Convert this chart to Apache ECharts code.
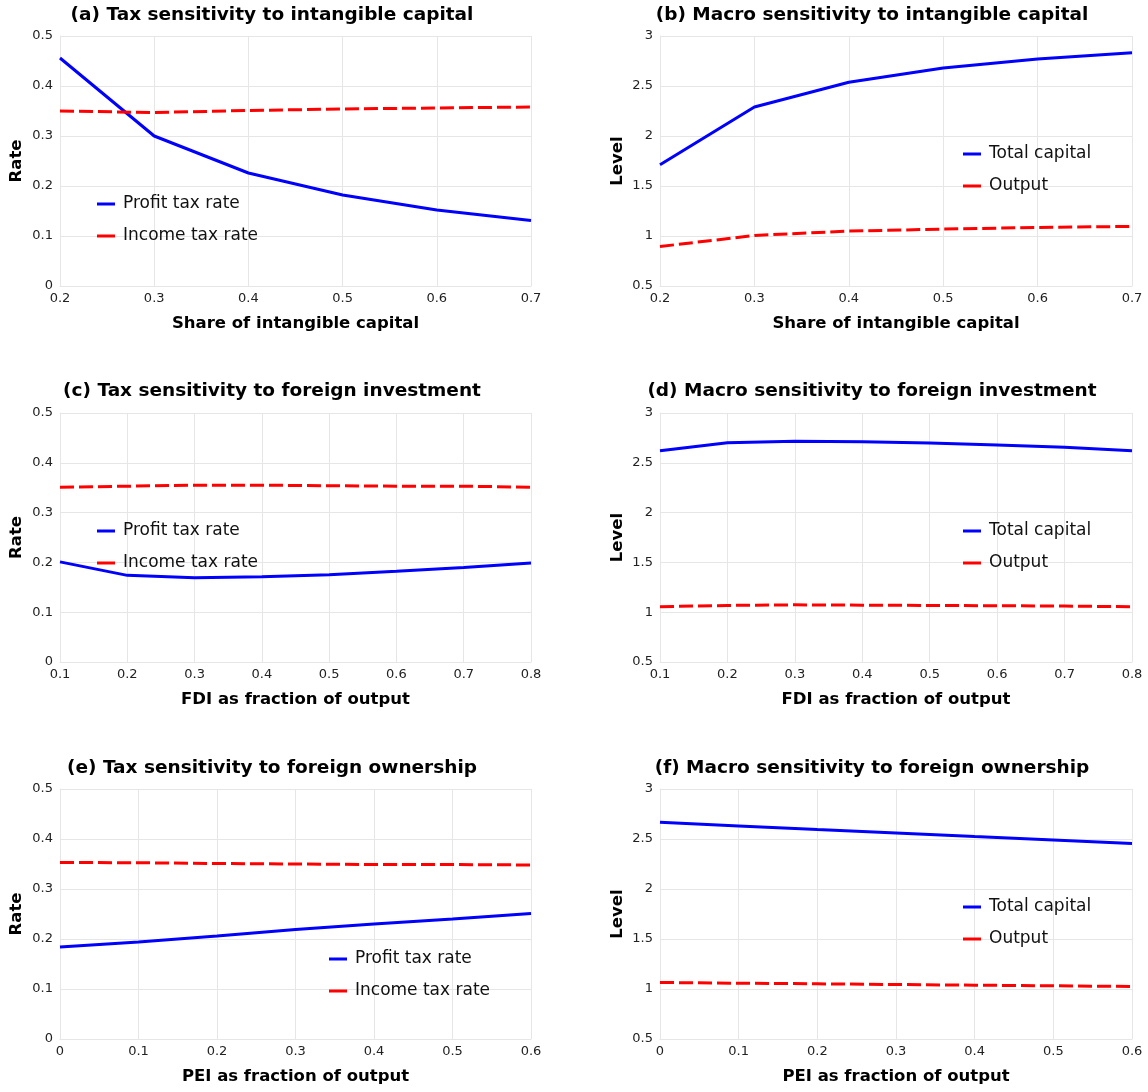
<!DOCTYPE html>
<html>
<head>
<meta charset="utf-8">
<title>Sensitivity of taxes and macro aggregates</title>
<script src="https://cdn.jsdelivr.net/npm/echarts@6/dist/echarts.min.js"></script>
<style>
  html, body { margin: 0; padding: 0; background: #ffffff; }
  #chart { width: 1148px; height: 1092px; }
</style>
</head>
<body>
<div id="chart"></div>
<script>
// Panels (a)/(b): share of intangible capital
const intangibleShare = [0.2, 0.3, 0.4, 0.5, 0.6, 0.7];
const profitTaxA = [0.456, 0.300, 0.226, 0.182, 0.152, 0.131];
const incomeTaxA = [0.350, 0.347, 0.351, 0.354, 0.356, 0.358];
const totalCapitalB = [1.712, 2.290, 2.538, 2.679, 2.769, 2.833];
const outputB = [0.895, 1.005, 1.049, 1.069, 1.086, 1.096];

// Panels (c)/(d): FDI as fraction of output
const fdiShare = [0.1, 0.2, 0.3, 0.4, 0.5, 0.6, 0.7, 0.8];
const profitTaxC = [0.201, 0.174, 0.169, 0.171, 0.175, 0.182, 0.190, 0.199];
const incomeTaxC = [0.351, 0.353, 0.355, 0.355, 0.354, 0.353, 0.353, 0.351];
const totalCapitalD = [2.622, 2.702, 2.716, 2.712, 2.699, 2.679, 2.655, 2.622];
const outputD = [1.055, 1.068, 1.074, 1.071, 1.068, 1.065, 1.061, 1.055];

// Panels (e)/(f): PEI as fraction of output
const peiShare = [0, 0.1, 0.2, 0.3, 0.4, 0.5, 0.6];
const profitTaxE = [0.184, 0.194, 0.206, 0.219, 0.230, 0.240, 0.251];
const incomeTaxE = [0.353, 0.3525, 0.351, 0.350, 0.349, 0.349, 0.348];
const totalCapitalF = [2.668, 2.631, 2.595, 2.561, 2.524, 2.491, 2.455];
const outputF = [1.065, 1.058, 1.052, 1.045, 1.038, 1.032, 1.025];

const panelTitles = [
  '(a) Tax sensitivity to intangible capital',
  '(b) Macro sensitivity to intangible capital',
  '(c) Tax sensitivity to foreign investment',
  '(d) Macro sensitivity to foreign investment',
  '(e) Tax sensitivity to foreign ownership',
  '(f) Macro sensitivity to foreign ownership'
];
const xAxisTitles = [
  'Share of intangible capital', 'Share of intangible capital',
  'FDI as fraction of output', 'FDI as fraction of output',
  'PEI as fraction of output', 'PEI as fraction of output'
];
const yAxisTitles = ['Rate', 'Level', 'Rate', 'Level', 'Rate', 'Level'];
const taxNames = ['Profit tax rate', 'Income tax rate'];
const macroNames = ['Total capital', 'Output'];

const FONT = '"DejaVu Sans", Verdana, sans-serif';
const BLUE = '#0000ff';
const RED = '#ff0000';
const GRID_LINE = '#e6e6e6';

const pairs = (xs, ys) => xs.map((x, i) => [x, ys[i]]);

// layout of the 3x2 panel grid
const colLeft = [60, 660];
const colWidth = [471, 472];
const rowTop = [36, 413, 789];
const rowHeight = [250, 249, 250];
const titleCenter = [272, 872];
const titleMid = [15, 391, 768];

const xRanges = [
  { min: 0.2, max: 0.7 }, { min: 0.2, max: 0.7 },
  { min: 0.1, max: 0.8 }, { min: 0.1, max: 0.8 },
  { min: 0, max: 0.6 }, { min: 0, max: 0.6 }
];
const yRanges = [
  { min: 0, max: 0.5, interval: 0.1 }, { min: 0.5, max: 3, interval: 0.5 },
  { min: 0, max: 0.5, interval: 0.1 }, { min: 0.5, max: 3, interval: 0.5 },
  { min: 0, max: 0.5, interval: 0.1 }, { min: 0.5, max: 3, interval: 0.5 }
];

const legendPos = [
  { left: 97, top: 194 }, { left: 963, top: 144 },
  { left: 97, top: 521 }, { left: 963, top: 521 },
  { left: 329, top: 949 }, { left: 963, top: 897 }
];

const panelData = [
  [pairs(intangibleShare, profitTaxA), pairs(intangibleShare, incomeTaxA)],
  [pairs(intangibleShare, totalCapitalB), pairs(intangibleShare, outputB)],
  [pairs(fdiShare, profitTaxC), pairs(fdiShare, incomeTaxC)],
  [pairs(fdiShare, totalCapitalD), pairs(fdiShare, outputD)],
  [pairs(peiShare, profitTaxE), pairs(peiShare, incomeTaxE)],
  [pairs(peiShare, totalCapitalF), pairs(peiShare, outputF)]
];

const grids = [], xAxes = [], yAxes = [], titles = [], legends = [], series = [];

for (let p = 0; p < 6; p++) {
  const row = Math.floor(p / 2);
  const col = p % 2;
  grids.push({
    left: colLeft[col], top: rowTop[row],
    width: colWidth[col], height: rowHeight[row],
    containLabel: false
  });
  titles.push({
    text: panelTitles[p],
    left: titleCenter[col],
    top: titleMid[row] - 11,
    textAlign: 'center',
    padding: 0,
    textStyle: { fontFamily: FONT, fontSize: 18.5, fontWeight: 'bold', color: '#000', lineHeight: 22 }
  });
  xAxes.push({
    type: 'value', gridIndex: p,
    min: xRanges[p].min, max: xRanges[p].max, interval: 0.1,
    name: xAxisTitles[p], nameLocation: 'middle', nameGap: 29,
    nameTextStyle: { fontFamily: FONT, fontSize: 16.5, fontWeight: 'bold', color: '#000' },
    axisLine: { show: true, lineStyle: { color: GRID_LINE, width: 1 } },
    axisTick: { show: false },
    axisLabel: { fontFamily: FONT, fontSize: 13, color: '#222', margin: 6 },
    splitLine: { show: true, lineStyle: { color: GRID_LINE, width: 1 } }
  });
  yAxes.push({
    type: 'value', gridIndex: p,
    min: yRanges[p].min, max: yRanges[p].max, interval: yRanges[p].interval,
    name: yAxisTitles[p], nameLocation: 'middle', nameGap: col === 0 ? 35 : 34,
    nameTextStyle: { fontFamily: FONT, fontSize: 16.5, fontWeight: 'bold', color: '#000' },
    axisLine: { show: true, lineStyle: { color: GRID_LINE, width: 1 } },
    axisTick: { show: false },
    axisLabel: { fontFamily: FONT, fontSize: 13, color: '#222', margin: 7 },
    splitLine: { show: true, lineStyle: { color: GRID_LINE, width: 1 } }
  });
  const names = col === 0 ? taxNames : macroNames;
  legends.push({
    left: legendPos[p].left, top: legendPos[p].top,
    orient: 'vertical', padding: 0, itemGap: 12,
    icon: 'rect', itemWidth: 18, itemHeight: 3,
    selectedMode: false,
    data: names,
    textStyle: { fontFamily: FONT, fontSize: 17, color: '#111', lineHeight: 20, padding: [0, 0, 0, 3] }
  });
  series.push({
    type: 'line', name: names[0], xAxisIndex: p, yAxisIndex: p,
    data: panelData[p][0], symbol: 'none', color: BLUE,
    lineStyle: { color: BLUE, width: 3 }
  });
  series.push({
    type: 'line', name: names[1], xAxisIndex: p, yAxisIndex: p,
    data: panelData[p][1], symbol: 'none', color: RED,
    lineStyle: { color: RED, width: 3, type: [14, 5] }
  });
}

const chart = echarts.init(document.getElementById('chart'), null, { renderer: 'canvas' });
chart.setOption({
  backgroundColor: '#ffffff',
  animation: false,
  title: titles,
  legend: legends,
  grid: grids,
  xAxis: xAxes,
  yAxis: yAxes,
  series: series
});
</script>
</body>
</html>
